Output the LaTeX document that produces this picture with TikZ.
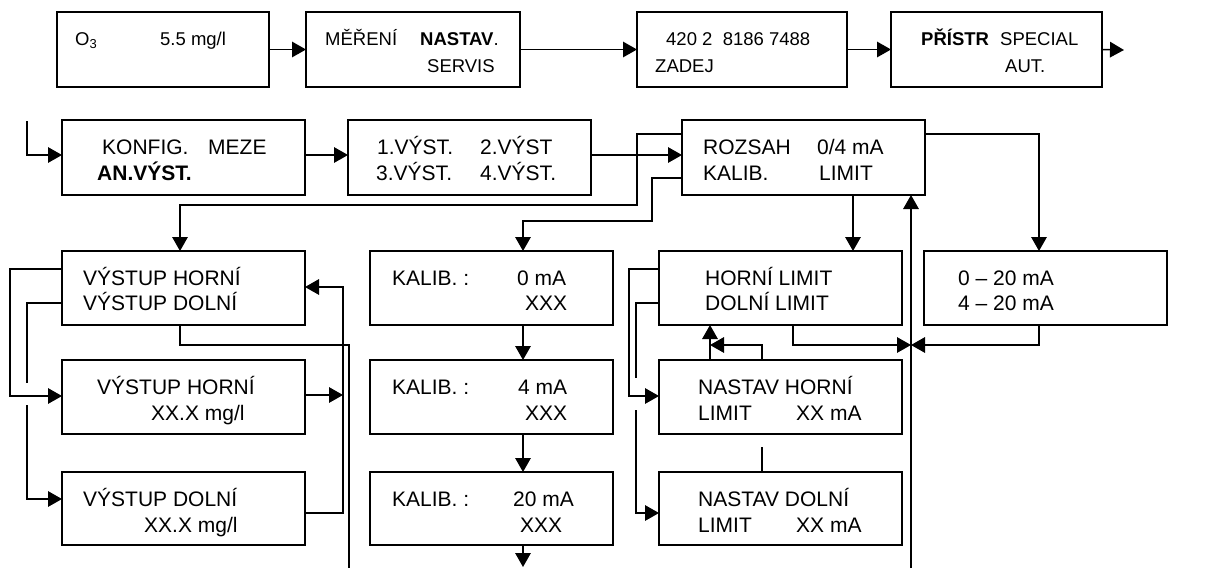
\documentclass[tikz,border=0pt]{standalone}
\usepackage{fontspec}
\setmainfont{Liberation Sans}
\usetikzlibrary{arrows.meta}
\newcommand\mybox[5]{\node[box, minimum width=#4pt, minimum height=#5pt] (#1) at (#2,#3) {};}
\newcommand\mytx[4]{\node[t] (#1) at (#2,#3) {#4};}
\newcommand\mytxs[4]{\node[ts] (#1) at (#2,#3) {#4};}
\begin{document}
\begin{tikzpicture}[x=1pt,y=-1pt,
  box/.style={draw, line width=1.8pt, inner sep=0pt, outer sep=0pt, anchor=north west},
  t/.style={anchor=base west, inner sep=0pt, font=\fontsize{21}{25}\selectfont},
  ts/.style={anchor=base west, inner sep=0pt, font=\fontsize{18.5}{22}\selectfont},
  conn/.style={line width=1.5pt},
  arr/.style={conn, -{Triangle[length=14pt,width=15.5pt]}}]
\useasboundingbox (0,0) rectangle (1205,568);
% boxes
\mybox{A}{57}{12}{212}{75}
\mybox{B}{306}{12}{214}{75}
\mybox{C}{637}{12}{210}{75}
\mybox{D}{891}{12}{211}{75}
\mybox{E}{62}{120}{243}{75}
\mybox{F}{348}{120}{243}{75}
\mybox{G}{682}{120}{243}{75}
\mybox{H}{62}{251}{243}{74}
\mybox{I}{370}{251}{243}{74}
\mybox{N}{659}{251}{243}{74}
\mybox{O}{924}{251}{243}{74}
\mybox{J}{62}{360}{243}{74}
\mybox{L}{370}{360}{243}{74}
\mybox{P}{659}{360}{243}{74}
\mybox{K}{62}{472}{243}{73}
\mybox{M}{370}{472}{243}{73}
\mybox{Q}{659}{472}{243}{73}
% texts row 1
\mytxs{A1}{75}{45}{O\textsubscript{3}}
\mytxs{A2}{160}{45}{5.5 mg/l}
\mytxs{B1}{325}{45}{MĚŘENÍ}
\mytxs{B2}{420}{45}{\textbf{NASTAV}.}
\mytxs{B3}{427}{72}{SERVIS}
\mytxs{C1}{666}{45}{420 2\ \ 8186 7488}
\mytxs{C2}{655}{72}{ZADEJ}
\mytxs{D1}{921}{45}{\textbf{PŘÍSTR}}
\mytxs{D2}{1000}{45}{SPECIAL}
\mytxs{D3}{1005}{72}{AUT.}
% row 2
\mytx{E1}{102}{154}{KONFIG.}
\mytx{E2}{208}{154}{MEZE}
\mytx{E3}{97}{180}{\textbf{AN.VÝST.}}
\mytx{F1}{377}{154}{1.VÝST.}
\mytx{F2}{480}{154}{2.VÝST}
\mytx{F3}{376}{180}{3.VÝST.}
\mytx{F4}{480}{180}{4.VÝST.}
\mytx{G1}{703}{154}{ROZSAH}
\mytx{G2}{817}{154}{0/4 mA}
\mytx{G3}{703}{180}{KALIB.}
\mytx{G4}{819}{180}{LIMIT}
% row 3
\mytx{H1}{83}{285}{VÝSTUP HORNÍ}
\mytx{H2}{83}{310}{VÝSTUP DOLNÍ}
\mytx{I1}{392}{285}{KALIB. :}
\mytx{I2}{517}{285}{0 mA}
\mytx{I3}{525}{310}{XXX}
\mytx{N1}{705}{285}{HORNÍ LIMIT}
\mytx{N2}{705}{310}{DOLNÍ LIMIT}
\mytx{O1}{958}{285}{0 – 20 mA}
\mytx{O2}{958}{310}{4 – 20 mA}
% row 4
\mytx{J1}{97}{394}{VÝSTUP HORNÍ}
\mytx{J2}{151}{420}{XX.X mg/l}
\mytx{L1}{392}{394}{KALIB. :}
\mytx{L2}{518}{394}{4 mA}
\mytx{L3}{525}{420}{XXX}
\mytx{P1}{698}{394}{NASTAV HORNÍ}
\mytx{P2}{698}{420}{LIMIT}
\mytx{P3}{796}{420}{XX mA}
% row 5
\mytx{K1}{83}{506}{VÝSTUP DOLNÍ}
\mytx{K2}{144}{532}{XX.X mg/l}
\mytx{M1}{392}{506}{KALIB. :}
\mytx{M2}{513}{506}{20 mA}
\mytx{M3}{520}{532}{XXX}
\mytx{Q1}{698}{506}{NASTAV DOLNÍ}
\mytx{Q2}{698}{532}{LIMIT}
\mytx{Q3}{796}{532}{XX mA}
% free coordinates
\coordinate (outD) at (1124,50);
\coordinate (inE) at (27,121);
\coordinate (bot) at (911,568);
\coordinate (j1) at (911,345);
\coordinate (j2) at (343,395);
\coordinate (bot2) at (349,568);
\coordinate (bot3) at (523,567);
\coordinate (j3) at (710,345);
\coordinate (q1) at (762,447);
% connectors row 1
\draw[arr] (A.east) -- (B.west);
\draw[arr] (B.east) -- (C.west);
\draw[arr] (C.east) -- (D.west);
\draw[arr] (D.east) -- (outD);
% row 2
\draw[arr] (inE) |- (E.west |- 0,155);
\draw[arr] (E.east |- 0,155) -- (F.west |- 0,155);
\draw[arr] (F.east |- 0,155) -- (G.west |- 0,155);
\draw[arr] (G.west |- 0,134) -| (637,205) -| (H.north -| 180,0);
\draw[arr] (G.west |- 0,178) -| (652,221) -| (I.north -| 523,0);
\draw[arr] (G.south -| 853,0) -- (N.north -| 853,0);
\draw[arr] (G.east |- 0,134) -| (O.north -| 1039,0);
\draw[arr] (bot) -- (G.south -| 911,0);
\draw[arr] (N.south -| 793,0) |- (j1);
\draw[arr] (O.south -| 1039,0) |- (j1);
% left column
\draw[arr] (H.west |- 0,303) -| (27,499) -- (K.west |- 0,499);
\fill[white] (23,383) rectangle (31,405);
\draw[arr] (H.west |- 0,269) -| (10,396) -- (J.west |- 0,396);
\draw[arr] (J.east |- 0,395) -- (j2);
\draw[arr] (K.east |- 0,513) -| (343,287) -- (H.east |- 0,287);
\draw[conn] (H.south -| 180,0) |- (349,345) -- (bot2);
% middle column
\draw[arr] (I.south -| 523,0) -- (L.north -| 523,0);
\draw[arr] (L.south -| 523,0) -- (M.north -| 523,0);
\draw[arr] (M.south -| 523,0) -- (bot3);
% right column
\draw[arr] (N.west |- 0,303) -| (636,513) -- (Q.west |- 0,513);
\fill[white] (632,378) rectangle (640,410);
\draw[arr] (N.west |- 0,269) -| (629,396) -- (P.west |- 0,396);
\draw[arr] (P.north -| 710,0) -- (N.south -| 710,0);
\draw[arr] (P.north -| 762,0) |- (j3);
\draw[conn] (Q.north -| 762,0) -- (q1);
\end{tikzpicture}
\end{document}
